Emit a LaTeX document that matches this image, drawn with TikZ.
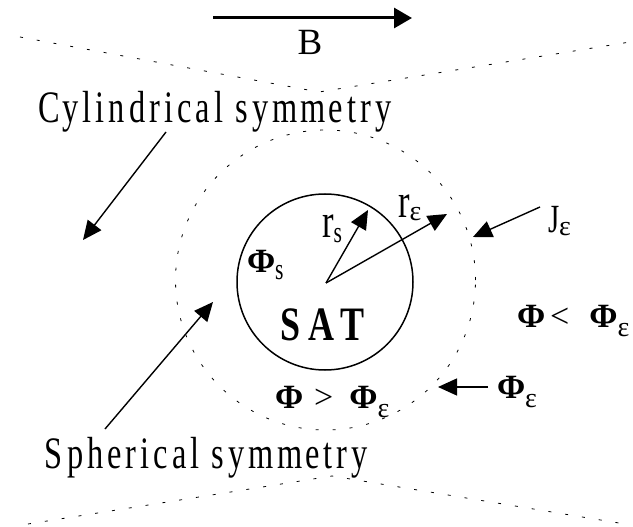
\documentclass[tikz,border=0pt]{standalone}
\usepackage{fontspec}
\setmainfont{Liberation Serif}
\newfontfamily\nar[FakeStretch=0.72]{Liberation Serif}
\newfontfamily\narsp[FakeStretch=0.72,LetterSpace=9]{Liberation Serif}
\newfontfamily\satf[FakeStretch=0.75,LetterSpace=18]{Liberation Serif Bold}
\usetikzlibrary{arrows.meta}
\newcommand\PhiB{{\fontsize{34}{34}\selectfont\bfseries Φ}}
\newcommand\epsS[1]{\raisebox{#1}{\fontsize{28}{28}\selectfont\rmfamily\mdseries ε}}
\newcommand\sS[1]{\raisebox{#1}{\nar\mdseries\fontsize{30}{30}\selectfont s}}
\begin{document}
\begin{tikzpicture}[x=1pt,y=-1pt,
  arr/.style={line width=1.4pt,-{Triangle[length=19pt,width=17pt]}},
  dots/.style={line width=0.8pt,dash pattern=on 3pt off 14pt},
  lab/.style={anchor=base west,inner sep=0pt,outer sep=0pt}]
\useasboundingbox (0,0) rectangle (633,527);
% B field arrow
\coordinate (Bs) at (213,18);
\coordinate (Be) at (412,18);
\draw[line width=3pt,-{Triangle[length=18pt,width=20pt]}] (Bs) -- (Be);
\node[anchor=base,inner sep=0pt] (Blab) at (310,55) {\fontsize{37}{37}\selectfont B};
% dotted boundaries
\coordinate (tl) at (20,37);
\coordinate (ta) at (319,92);
\coordinate (tr) at (630,42);
\draw[dots] (tl) -- (ta) -- (tr);
\coordinate (bl) at (28,524);
\coordinate (ba) at (332,476);
\coordinate (br) at (625,524);
\draw[dots] (bl) -- (ba) -- (br);
% circles
\node[circle,draw,dots,minimum size=300pt,inner sep=0pt] (eps) at (325.5,280) {};
\node[circle,draw,line width=1.5pt,minimum size=176pt,inner sep=0pt] (sat) at (325,282) {};
\coordinate (O) at (326,283);
\coordinate (rs) at (368,210);
\coordinate (re) at (447,214);
\draw[arr] (O) -- (rs);
\draw[arr] (O) -- (re);
% labels
\node[lab] (cyl) at (38,123) {\narsp\fontsize{45}{45}\selectfont C\kern3pt ylindrical sym\kern3pt m\kern3pt etry};
\node[lab] (sph) at (45,468) {\narsp\fontsize{45}{45}\selectfont Spherical sym\kern3pt m\kern3pt etry};
\node[lab] (satlab) at (280,340) {\satf\fontsize{48}{48}\selectfont SAT};
\node[lab] (rslab) at (322,237) {\nar\fontsize{48}{48}\selectfont r\sS{-5pt}};
\node[lab] (relab) at (398,217) {\nar\fontsize{48}{48}\selectfont r\epsS{-3pt}};
\node[lab] (jlab) at (548,233) {\nar\fontsize{40}{40}\selectfont J\epsS{-2pt}};
\node[lab] (phislab) at (247,272) {\PhiB\sS{-8pt}};
\node[lab] (gtlab) at (275,408) {\PhiB\hspace{11pt}{\fontsize{34}{34}\selectfont >}\hspace{16pt}\PhiB\epsS{-9pt}};
\node[lab] (ltlab) at (517,327) {\PhiB\hspace{5pt}{\fontsize{34}{34}\selectfont <}\hspace{20pt}\PhiB\epsS{-9pt}};
\node[lab] (phielab) at (497,398) {\PhiB\epsS{-9pt}};
% pointer arrows
\coordinate (cylS) at (166,132);
\coordinate (cylE) at (83,240);
\draw[arr] (cylS) -- (cylE);
\coordinate (sphS) at (105,429);
\coordinate (sphE) at (213,302);
\draw[arr] (sphS) -- (sphE);
\coordinate (jS) at (540,207);
\coordinate (jE) at (473,237);
\draw[arr] (jS) -- (jE);
\coordinate (pS) at (488,387);
\coordinate (pE) at (438,387);
\draw[arr] (pS) -- (pE);
\end{tikzpicture}
\end{document}
